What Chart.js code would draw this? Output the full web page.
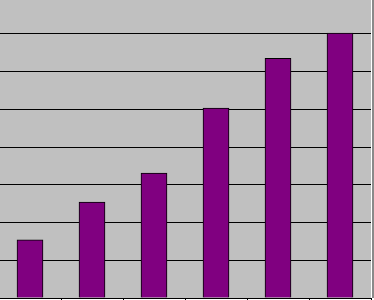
<!DOCTYPE html>
<html>
<head>
<meta charset="utf-8">
<script src="https://cdn.jsdelivr.net/npm/chart.js@4/dist/chart.umd.min.js"></script>
<style>
  html, body { margin: 0; padding: 0; background: #ffffff; overflow: hidden; width: 374px; height: 300px; }
  #wrap { position: absolute; left: -1px; top: -4px; width: 376px; height: 308px; }
</style>
</head>
<body>
<div id="wrap"><canvas id="c" width="376" height="308"></canvas></div>
<script>
const categories = ["1", "2", "3", "4", "5", "6"];
const values = [1.54, 2.54, 3.31, 5.03, 6.35, 7.02];
const yTicks = [0, 1, 2, 3, 4, 5, 6, 7, 8];

const plotBg = {
  id: 'plotBg',
  beforeDraw(chart) {
    const { ctx, chartArea: a } = chart;
    ctx.save();
    ctx.fillStyle = '#C0C0C0';
    ctx.fillRect(a.left, a.top, a.right - a.left, a.bottom - a.top);
    ctx.fillStyle = '#8a8a8a';
    ctx.fillRect(a.right + 1, a.top, 3, a.bottom - a.top);
    ctx.restore();
  }
};

new Chart(document.getElementById('c'), {
  type: 'bar',
  data: {
    labels: categories,
    datasets: [{
      data: values,
      backgroundColor: '#800080',
      borderColor: '#000000',
      borderWidth: 1,
      barThickness: 26
    }]
  },
  options: {
    responsive: false,
    animation: false,
    devicePixelRatio: 1,
    layout: { padding: { left: 0, right: 4, top: 0, bottom: 0 } },
    plugins: { legend: { display: false }, tooltip: { enabled: false } },
    scales: {
      x: {
        offset: true,
        ticks: { display: false },
        grid: { offset: true, drawOnChartArea: false, drawTicks: true, tickLength: 6, color: '#000000', lineWidth: 1 },
        border: { display: true, color: '#000000', width: 1 }
      },
      y: {
        min: yTicks[0],
        max: yTicks[yTicks.length - 1],
        afterBuildTicks(scale) { scale.ticks = yTicks.map(v => ({ value: v })); },
        ticks: { display: false },
        grid: { drawTicks: false, color: '#000000', lineWidth: 1 },
        border: { display: false }
      }
    }
  },
  plugins: [plotBg]
});
</script>
</body>
</html>
